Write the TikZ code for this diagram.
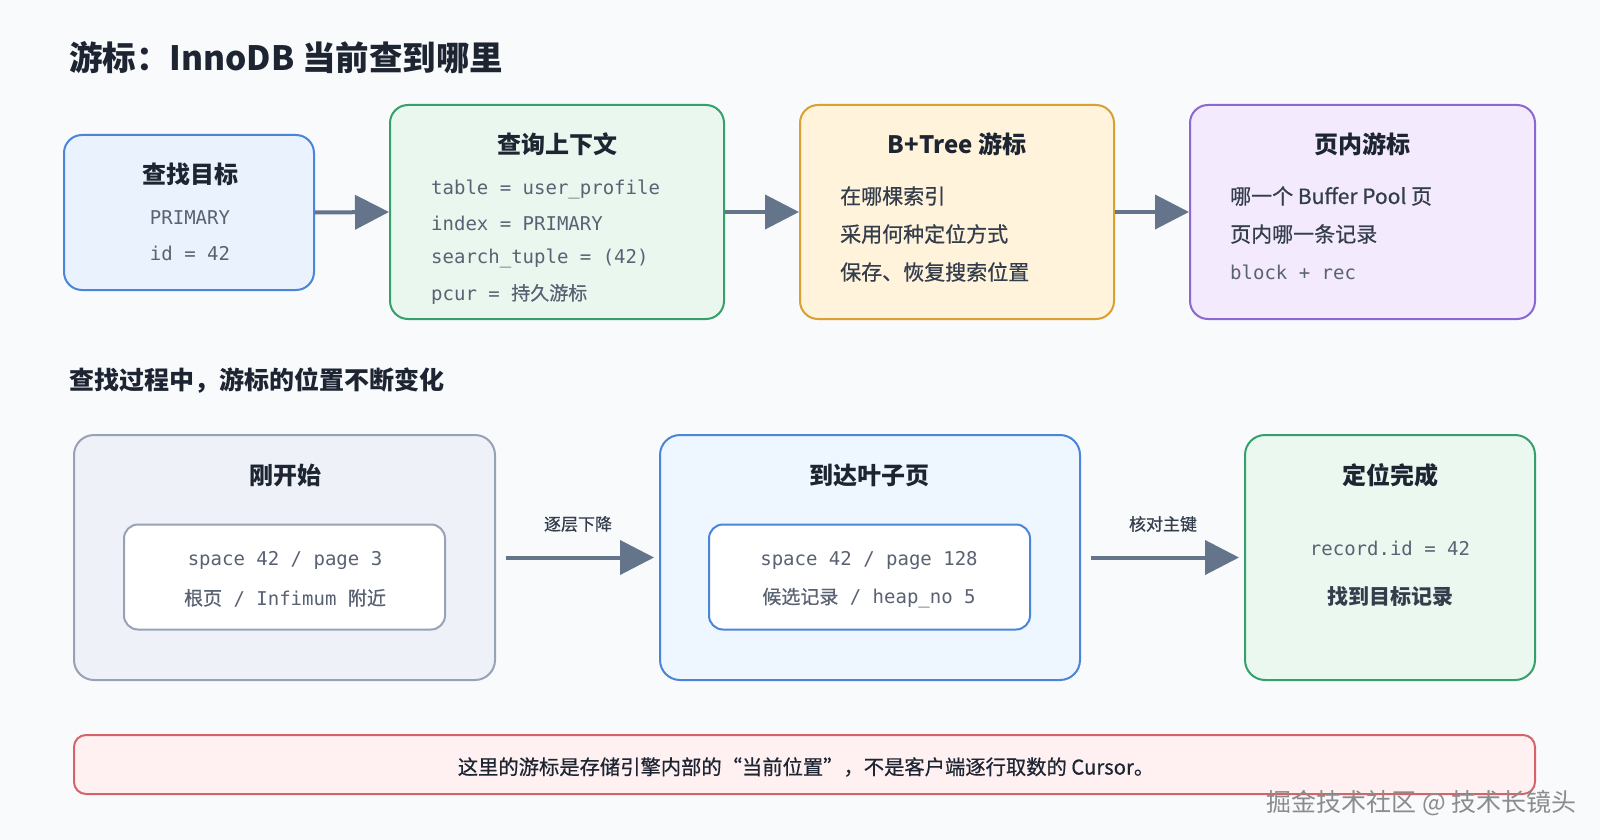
\documentclass[tikz,border=0pt]{standalone}
\usepackage{fontspec}
\setmainfont{Noto Sans CJK SC}
\newfontfamily\cjk{Noto Sans CJK SC}
\newfontfamily\med{Noto Sans CJK SC}[FakeBold=0.6]
\newfontfamily\mono{DejaVu Sans Mono}
\usetikzlibrary{arrows.meta}
\definecolor{bg}{HTML}{F8FAFC}
\definecolor{tdark}{HTML}{1E2532}
\definecolor{tmono}{HTML}{596273}
\definecolor{tbody}{HTML}{343D4C}
\definecolor{arrowc}{HTML}{64748B}
\definecolor{blueF}{HTML}{EAF2FE}\definecolor{blueD}{HTML}{4A85D9}
\definecolor{greenF}{HTML}{E9F7EF}\definecolor{greenD}{HTML}{35A06B}
\definecolor{amberF}{HTML}{FFF3DB}\definecolor{amberD}{HTML}{D9A032}
\definecolor{purpF}{HTML}{F3EAFE}\definecolor{purpD}{HTML}{8B67D1}
\definecolor{grayF}{HTML}{EEF2F8}\definecolor{grayD}{HTML}{98A2B6}
\definecolor{lblueF}{HTML}{EEF6FF}
\definecolor{lgreenF}{HTML}{EAF8F0}
\definecolor{redF}{HTML}{FFF1F1}\definecolor{redD}{HTML}{D6636B}
\begin{document}
\begin{tikzpicture}[x=1pt,y=-1pt,
  box/.style={draw, line width=2pt, rounded corners=18pt, inner sep=0pt},
  inbox/.style={draw, line width=2pt, rounded corners=14pt, fill=white, inner sep=0pt},
  ttl/.style={font=\fontsize{24}{28}\selectfont\bfseries, text=tdark, inner sep=0pt},
  mtxt/.style={font=\fontsize{19}{22}\mono, text=tmono, inner sep=0pt},
  btxt/.style={font=\fontsize{21}{24}\med, text=tbody, inner sep=0pt},
  lbl/.style={font=\fontsize{17}{20}\med, text=tbody, inner sep=0pt},
  arr/.style={draw=arrowc, line width=4pt, -{Triangle[length=34pt,width=34pt]}}
]
\fill[bg] (0,0) rectangle (1600,840);
\useasboundingbox (0,0) rectangle (1600,840);

\node[anchor=west, font=\fontsize{33.5}{38}\selectfont\bfseries, text=tdark, inner sep=0pt] (title) at (69,58) {游标：InnoDB 当前查到哪里};

% top row
\node[box, fill=blueF, draw=blueD, minimum width=250pt, minimum height=155pt] (b1) at (189,212.5) {};
\node[box, fill=greenF, draw=greenD, minimum width=334pt, minimum height=214pt] (b2) at (557,212) {};
\node[box, fill=amberF, draw=amberD, minimum width=314pt, minimum height=214pt] (b3) at (957,212) {};
\node[box, fill=purpF, draw=purpD, minimum width=345pt, minimum height=214pt] (b4) at (1362.5,212) {};

\node[ttl] (t1) at (190,174) {查找目标};
\node[mtxt] (t1a) at (190,218) {PRIMARY};
\node[mtxt] (t1b) at (190,253) {id = 42};

\node[ttl] (t2) at (557,144) {查询上下文};
\node[mtxt, anchor=west] (t2a) at (431,189) {table = user\_profile};
\node[mtxt, anchor=west] (t2b) at (431,223.5) {index = PRIMARY};
\node[mtxt, anchor=west] (t2c) at (431,258) {search\_tuple = (42)};
\node[mtxt, anchor=west] (t2d) at (431,294) {pcur = {\med 持久游标}};

\node[ttl] (t3) at (957,144) {B+Tree 游标};
\node[btxt, anchor=west] (t3a) at (840,196) {在哪棵索引};
\node[btxt, anchor=west] (t3b) at (840,234) {采用何种定位方式};
\node[btxt, anchor=west] (t3c) at (840,272) {保存、恢复搜索位置};

\node[ttl] (t4) at (1362,144) {页内游标};
\node[btxt, anchor=west] (t4a) at (1230,196) {哪一个 Buffer Pool 页};
\node[btxt, anchor=west] (t4b) at (1230,234) {页内哪一条记录};
\node[mtxt, anchor=west] (t4c) at (1230,272) {block + rec};

\draw[arr] (b1.east) -- (b2.west);
\draw[arr] (b2.east) -- (b3.west);
\draw[arr] (b3.east) -- (b4.west);

% subtitle
\node[anchor=west, font=\fontsize{25}{29}\selectfont\bfseries, text=tdark, inner sep=0pt] (sub) at (69,381) {查找过程中，游标的位置不断变化};

% bottom row
\node[box, rounded corners=20pt, fill=grayF, draw=grayD, minimum width=421pt, minimum height=245pt] (s1) at (284.5,557.5) {};
\node[box, rounded corners=20pt, fill=lblueF, draw=blueD, minimum width=420pt, minimum height=245pt] (s2) at (870,557.5) {};
\node[box, rounded corners=20pt, fill=lgreenF, draw=greenD, minimum width=290pt, minimum height=245pt] (s3) at (1390,557.5) {};

\node[ttl] (st1) at (285,475.5) {刚开始};
\node[inbox, draw=grayD, minimum width=321pt, minimum height=105pt] (i1) at (284.5,577) {};
\node[mtxt] (i1a) at (285,560) {space 42 / page 3};
\node[mtxt] (i1b) at (285,598) {{\med 根页} / Infimum {\med 附近}};

\node[ttl] (st2) at (869,475.5) {到达叶子页};
\node[inbox, draw=blueD, minimum width=321pt, minimum height=105pt] (i2) at (869.5,577) {};
\node[mtxt] (i2a) at (869,560) {space 42 / page 128};
\node[mtxt] (i2b) at (869,598) {{\med 候选记录} / heap\_no 5};

\node[ttl] (st3) at (1390,475.5) {定位完成};
\node[mtxt] (s3a) at (1390,548) {record.id = 42};
\node[font=\fontsize{21}{24}\selectfont\bfseries, text=tbody, inner sep=0pt] (s3b) at (1390,597) {找到目标记录};

\draw[arr, shorten <=10pt, shorten >=5pt] (s1.east) -- (s2.west);
\draw[arr, shorten <=10pt, shorten >=5pt] (s2.east) -- (s3.west);
\node[lbl] (l1) at (578,524) {逐层下降};
\node[lbl] (l2) at (1163,524) {核对主键};

% note
\node[box, rounded corners=12pt, fill=redF, draw=redD, minimum width=1461pt, minimum height=59pt] (note) at (804.5,764.5) {};
\node[font=\fontsize{20.3}{24}\med, text=tdark, inner sep=0pt] (notet) at (806,767) {这里的游标是存储引擎内部的“当前位置”，不是客户端逐行取数的 Cursor。};

% watermark
\node[anchor=east, font=\fontsize{25}{28}\selectfont, text=black!45, inner sep=0pt] (wm) at (1577,803) {掘金技术社区 @ 技术长镜头};
\end{tikzpicture}
\end{document}
